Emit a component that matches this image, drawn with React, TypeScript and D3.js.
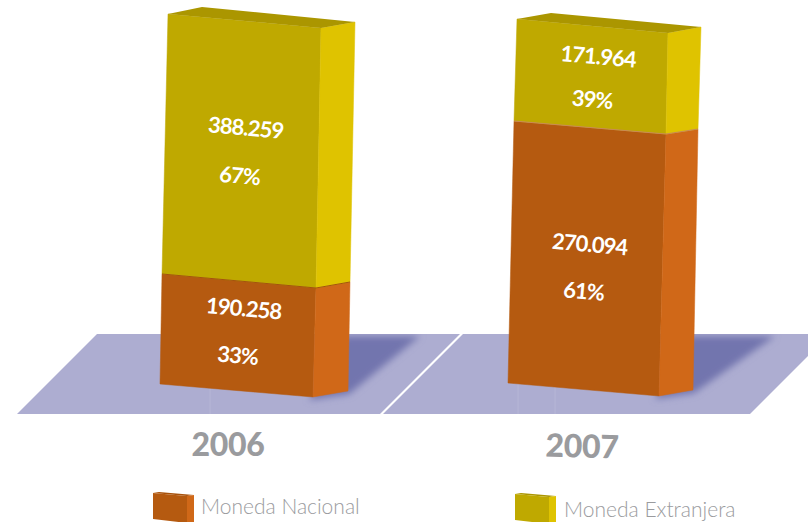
import React from "react";
import * as d3 from "d3";

// ---------- data ----------
const years = ["2006", "2007"];
const monedaNacional = [190258, 270094];
const monedaExtranjera = [388259, 171964];
const pctNacional = [33, 61];
const pctExtranjera = [67, 39];
const seriesNames = ["Moneda Nacional", "Moneda Extranjera"];

// ---------- layout (pixel frames of the hand-drawn perspective prisms) ----------
type P = [number, number];
const W = 808, H = 522;
const frames: { fl: P[]; fr: P[]; br: P[]; backLeftTop: P; shadowTip: P; shadowTopX: number; labelShift: P[][]; yearPos: P; yearRot: number }[] = [
  {
    fl: [[160, 384], [162, 274], [168, 14]],
    fr: [[313, 397], [316, 288], [321, 28]],
    br: [[348, 391], [350, 282], [355, 22]],
    backLeftTop: [202, 7],
    shadowTip: [420, 336],
    shadowTopX: 345,
    labelShift: [[[6, -28], [0, 19]], [[4, -24], [-2, 24]]],
    yearPos: [228, 443],
    yearRot: 0,
  },
  {
    fl: [[508, 383], [514, 121], [517, 19]],
    fr: [[659, 396], [666, 134], [668, 33]],
    br: [[693, 390], [698, 129], [701, 27]],
    backLeftTop: [551, 13],
    shadowTip: [775, 336],
    shadowTopX: 690,
    labelShift: [[[3, -15], [-3, 32]], [[7, -21], [1, 22]]],
    yearPos: [582, 445],
    yearRot: 1.5,
  },
];
const floorY = [334, 414];
const floors: number[][] = [[17, 97, 460, 380], [383, 463, 830, 750]];
const faintLines = [210, 518, 555];
const floorColor = "#adadd1";
const shadowColor = "#7275ae";
const palette = {
  nacional: { front: "#b55a10", side: "#d06818", top: "#a8520c" },
  extranjera: { front: "#bfa900", side: "#dfc300", top: "#ab9600" },
};
const greyText = "#9a9b9e";
const font = "Lato, 'Open Sans', sans-serif";

const pts = (a: P[]) => a.map((p) => p.join(",")).join(" ");
const fmt = (v: number) => d3.format(",d")(v).replace(/,/g, ".");

function Stack({ i }: { i: number }) {
  const f = frames[i];
  const a = monedaNacional[i], b = monedaExtranjera[i];
  const dom = [0, a, a + b];
  const edge = (e: P[]) => {
    const sx = d3.scaleLinear().domain(dom).range(e.map((p) => p[0]));
    const sy = d3.scaleLinear().domain(dom).range(e.map((p) => p[1]));
    return (v: number): P => [sx(v), sy(v)];
  };
  const fl = edge(f.fl), fr = edge(f.fr), br = edge(f.br);
  const segs = [
    { lo: 0, hi: a, c: palette.nacional, val: a, pct: pctNacional[i] },
    { lo: a, hi: a + b, c: palette.extranjera, val: b, pct: pctExtranjera[i] },
  ];
  return (
    <g>
      {segs.map((s, k) => {
        const mid = (s.lo + s.hi) / 2;
        const c1 = fl(mid), c2 = fr(mid);
        const cx = (c1[0] + c2[0]) / 2, cy = (c1[1] + c2[1]) / 2;
        const [l1, l2] = f.labelShift[k];
        const textProps = {
          fill: "#fff",
          fontFamily: font,
          fontWeight: 700,
          fontSize: 22,
          textAnchor: "middle" as const,
          dominantBaseline: "central" as const,
          letterSpacing: -0.9,
        };
        return (
          <g key={k}>
            <polygon points={pts([fl(s.lo), fr(s.lo), fr(s.hi), fl(s.hi)])} fill={s.c.front} stroke={s.c.front} strokeWidth={0.5} />
            <polygon points={pts([fr(s.lo), br(s.lo), br(s.hi), fr(s.hi)])} fill={s.c.side} stroke={s.c.side} strokeWidth={0.5} />
            <text {...textProps} transform={`translate(${cx + l1[0]},${cy + l1[1]}) rotate(5)`}>{fmt(s.val)}</text>
            <text {...textProps} transform={`translate(${cx + l2[0]},${cy + l2[1]}) rotate(5)`}>{s.pct}%</text>
          </g>
        );
      })}
      <polyline points={pts([fl(a), fr(a), br(a)])} fill="none" stroke={i === 0 ? "#a4530e" : "#c98a55"} strokeWidth={1} />
      <polygon points={pts([fl(a + b), fr(a + b), br(a + b), f.backLeftTop])} fill={palette.extranjera.top} />
      <text
        transform={`translate(${f.yearPos[0]},${f.yearPos[1]}) rotate(${f.yearRot})`}
        fill={greyText}
        fontFamily={font}
        fontWeight={900}
        fontSize={32}
        letterSpacing={-0.3}
        textAnchor="middle"
        dominantBaseline="central"
      >
        {years[i]}
      </text>
    </g>
  );
}

function Swatch({ x, y, c }: { x: number; y: number; c: { front: string; side: string; top: string } }) {
  const fx = d3.scaleLinear().domain([0, 1]).range([x, x + 34]);
  return (
    <g>
      <polygon points={pts([[fx(0), y + 1], [fx(0) + 6, y], [fx(1) + 7, y + 3], [fx(1), y + 4]])} fill={c.top} />
      <polygon points={pts([[fx(0), y + 1], [fx(1), y + 4], [fx(1), y + 31], [fx(0), y + 27]])} fill={c.front} />
      <polygon points={pts([[fx(1), y + 4], [fx(1) + 7, y + 3], [fx(1) + 7, y + 31], [fx(1), y + 31]])} fill={c.side} />
    </g>
  );
}

export default function App() {
  return (
    <svg width={W} height={H} style={{ position: "absolute", left: 0, top: 0, display: "block", background: "#fff" }}>
      <defs>
        <filter id="sb" x="-30%" y="-30%" width="160%" height="160%">
          <feGaussianBlur stdDeviation="3.5" />
        </filter>
        <clipPath id="floorClip">
          {floors.map((q, i) => (
            <polygon key={i} points={pts([[q[0], floorY[1]], [q[1], floorY[0]], [q[2], floorY[0]], [q[3], floorY[1]]])} />
          ))}
        </clipPath>
      </defs>
      {floors.map((q, i) => (
        <polygon
          key={i}
          points={pts([[q[0], floorY[1]], [q[1], floorY[0]], [q[2], floorY[0]], [q[3], floorY[1]]])}
          fill={floorColor}
        />
      ))}
      <g clipPath="url(#floorClip)">
        {faintLines.map((x) => (
          <line key={x} x1={x} x2={x} y1={floorY[0] + 50} y2={floorY[1]} stroke="#bcbcd9" strokeWidth={0.7} />
        ))}
        {frames.map((f, i) => (
          <g key={i} filter="url(#sb)">
            <polygon
              points={pts([
                [f.fr[0][0] - 4, f.fr[0][1] + 3],
                [f.br[0][0] + 1, f.br[0][1] + 3],
                f.shadowTip,
                [f.shadowTopX, f.shadowTip[1]],
              ])}
              fill={shadowColor}
            />
          </g>
        ))}
      </g>
      {years.map((_, i) => (
        <Stack key={i} i={i} />
      ))}
      <Swatch x={153} y={492} c={palette.nacional} />
      <Swatch x={515} y={493} c={palette.extranjera} />
      <text x={201} y={514} fill={greyText} fontFamily={font} fontWeight={300} fontSize={21}>{seriesNames[0]}</text>
      <text x={564} y={517} fill={greyText} fontFamily={font} fontWeight={300} fontSize={21}>{seriesNames[1]}</text>
    </svg>
  );
}
